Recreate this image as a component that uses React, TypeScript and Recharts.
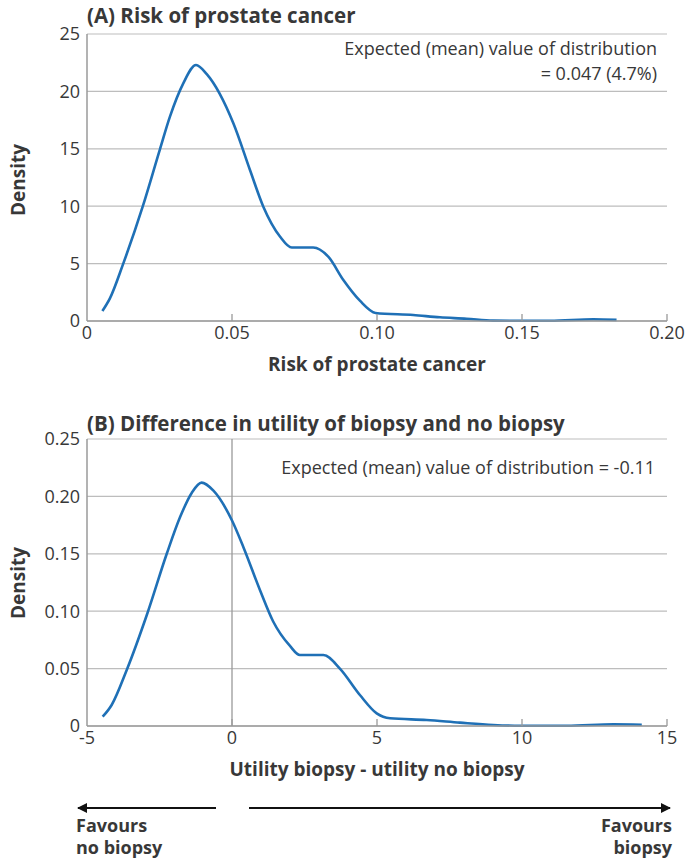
import { LineChart, Line, XAxis, YAxis, CartesianGrid, ReferenceLine } from "recharts";

const riskX = [0.0053, 0.0079, 0.0125, 0.0192, 0.0252, 0.0286, 0.0332, 0.0376, 0.0413, 0.0505, 0.0562, 0.0608, 0.0666, 0.0706, 0.078, 0.0832, 0.0884, 0.0941, 0.0995, 0.1125, 0.1217, 0.1309, 0.14, 0.1597, 0.1746, 0.1826];
const riskDensity = [0.87, 1.97, 5.0, 9.96, 15.0, 17.8, 20.7, 22.3, 21.5, 17.2, 13.15, 9.96, 7.34, 6.4, 6.4, 5.6, 3.57, 1.77, 0.7, 0.52, 0.32, 0.2, 0.03, 0.02, 0.15, 0.1];

const utilX = [-4.46, -4.15, -3.63, -2.92, -2.25, -1.79, -1.39, -1.05, -0.64, 0.0, 0.39, 0.97, 1.42, 2.0, 2.34, 3.15, 3.72, 4.41, 4.99, 5.45, 6.71, 7.86, 9.01, 9.93, 11.54, 13.15, 14.13];
const utilDensity = [0.0081, 0.0183, 0.0488, 0.098, 0.15, 0.182, 0.203, 0.212, 0.205, 0.179, 0.156, 0.118, 0.091, 0.0697, 0.0618, 0.0618, 0.05, 0.027, 0.011, 0.0067, 0.0052, 0.0029, 0.0009, 0.0002, 0.0002, 0.0015, 0.0011];

const xTicksA = [0, 0.05, 0.1, 0.15, 0.2];
const xLabelsA = ["0", "0.05", "0.10", "0.15", "0.20"];
const yTicksA = [0, 5, 10, 15, 20, 25];
const yLabelsA = ["0", "5", "10", "15", "20", "25"];

const xTicksB = [-5, 0, 5, 10, 15];
const xLabelsB = ["-5", "0", "5", "10", "15"];
const yTicksB = [0, 0.05, 0.1, 0.15, 0.2, 0.25];
const yLabelsB = ["0", "0.05", "0.10", "0.15", "0.20", "0.25"];

const dataA = riskX.map((x, i) => ({ x, density: riskDensity[i] }));
const dataB = utilX.map((x, i) => ({ x, density: utilDensity[i] }));

const FONT = "'Open Sans', sans-serif";
const TEXT = "#383838";
const AXIS = "#9a9a9a";
const GRID = "#bdbdbd";
const BLUE = "#1f70b6";
const TICK_MARGIN = 5;
const TICK_FS = 18;
const LABEL_FS = 19;

function makeXTick(ticks: number[], labels: string[]) {
  return (props: any) => {
    const { x, y, payload } = props;
    const idx = ticks.indexOf(payload.value);
    const axisY = y - TICK_MARGIN;
    return (
      <g>
        {idx > 0 && <line x1={x} x2={x} y1={axisY} y2={axisY - 7} stroke={AXIS} strokeWidth={1.3} />}
        <text x={x} y={y} dy="0.72em" textAnchor="middle" fill={TEXT} fontSize={TICK_FS} fontFamily={FONT}>
          {labels[idx] ?? payload.value}
        </text>
      </g>
    );
  };
}

function DensityPanel({ data, xTicks, xLabels, yTicks, yLabels, xDomain, yDomain, height, top, xAxisHeight, xTitle, zeroLine }: any) {
  return (
    <LineChart width={685} height={height} data={data} margin={{ top, right: 18, left: 0, bottom: 0 }}>
      <CartesianGrid vertical={false} stroke={GRID} strokeWidth={1.2} horizontalValues={yTicks} />
      <XAxis
        type="number"
        dataKey="x"
        domain={xDomain}
        ticks={xTicks}
        allowDataOverflow
        height={xAxisHeight}
        stroke={AXIS}
        strokeWidth={1.5}
        tickLine={false}
        tickSize={0}
        tickMargin={TICK_MARGIN}
        interval={0}
        tick={makeXTick(xTicks, xLabels)}
        label={{ value: xTitle, position: "insideTop", offset: 37, fill: TEXT, fontSize: LABEL_FS, fontWeight: 700, fontFamily: FONT }}
      />
      <YAxis
        type="number"
        domain={yDomain}
        ticks={yTicks}
        width={87}
        stroke={AXIS}
        strokeWidth={1.5}
        tickLine={false}
        tickSize={0}
        tickMargin={7}
        interval={0}
        tickFormatter={(v: number) => yLabels[yTicks.indexOf(v)] ?? String(v)}
        tick={{ fill: TEXT, fontSize: TICK_FS, fontFamily: FONT }}
      />
      {zeroLine && <ReferenceLine x={0} stroke={AXIS} strokeWidth={1.3} />}
      <Line
        type="monotone"
        dataKey="density"
        stroke={BLUE}
        strokeWidth={2.6}
        dot={false}
        activeDot={false}
        isAnimationActive={false}
      />
    </LineChart>
  );
}

export default function App() {
  return (
    <div style={{ position: "absolute", left: 0, top: 0, width: 685, height: 862, background: "#fff", fontFamily: FONT }}>
      <div style={{ position: "absolute", left: 0, top: 0 }}>
        <DensityPanel
          data={dataA}
          xTicks={xTicksA}
          xLabels={xLabelsA}
          yTicks={yTicksA}
          yLabels={yLabelsA}
          xDomain={[0, 0.2]}
          yDomain={[0, 25]}
          height={390}
          top={34}
          xAxisHeight={69}
          xTitle="Risk of prostate cancer"
          zeroLine={false}
        />
      </div>
      <div style={{ position: "absolute", left: 0, top: 390 }}>
        <DensityPanel
          data={dataB}
          xTicks={xTicksB}
          xLabels={xLabelsB}
          yTicks={yTicksB}
          yLabels={yLabelsB}
          xDomain={[-5, 15]}
          yDomain={[0, 0.25]}
          height={410}
          top={49}
          xAxisHeight={74}
          xTitle="Utility biopsy - utility no biopsy"
          zeroLine={true}
        />
      </div>
      <svg width={685} height={862} style={{ position: "absolute", left: 0, top: 0, pointerEvents: "none" }}>
        <defs>
          <marker id="arrowHead" viewBox="0 0 10 10" refX="9" refY="5" markerWidth="5" markerHeight="5" orient="auto-start-reverse">
            <path d="M0,0 L10,5 L0,10 z" fill="#111" />
          </marker>
        </defs>
        <g fontFamily={FONT} fill={TEXT}>
          <text x={87} y={23} fontSize={20.5} fontWeight={700}>(A) Risk of prostate cancer</text>
          <text x={657} y={55} fontSize={18} textAnchor="end">Expected (mean) value of distribution</text>
          <text x={657} y={80} fontSize={18} textAnchor="end">= 0.047 (4.7%)</text>
          <text transform="translate(25,180) rotate(-90)" fontSize={LABEL_FS} fontWeight={700} textAnchor="middle">Density</text>

          <text x={87} y={431} fontSize={20.5} fontWeight={700}>(B) Difference in utility of biopsy and no biopsy</text>
          <text x={655} y={474} fontSize={18} textAnchor="end">Expected (mean) value of distribution = -0.11</text>
          <text transform="translate(25,583) rotate(-90)" fontSize={LABEL_FS} fontWeight={700} textAnchor="middle">Density</text>

          <text x={76} y={832} fontSize={18} fontWeight={700}>Favours</text>
          <text x={76} y={854} fontSize={18} fontWeight={700}>no biopsy</text>
          <text x={672} y={832} fontSize={18} fontWeight={700} textAnchor="end">Favours</text>
          <text x={672} y={854} fontSize={18} fontWeight={700} textAnchor="end">biopsy</text>
        </g>
        <line x1={216} y1={808} x2={78} y2={808} stroke="#111" strokeWidth={2} markerEnd="url(#arrowHead)" />
        <line x1={249} y1={808} x2={670} y2={808} stroke="#111" strokeWidth={2} markerEnd="url(#arrowHead)" />
      </svg>
    </div>
  );
}
